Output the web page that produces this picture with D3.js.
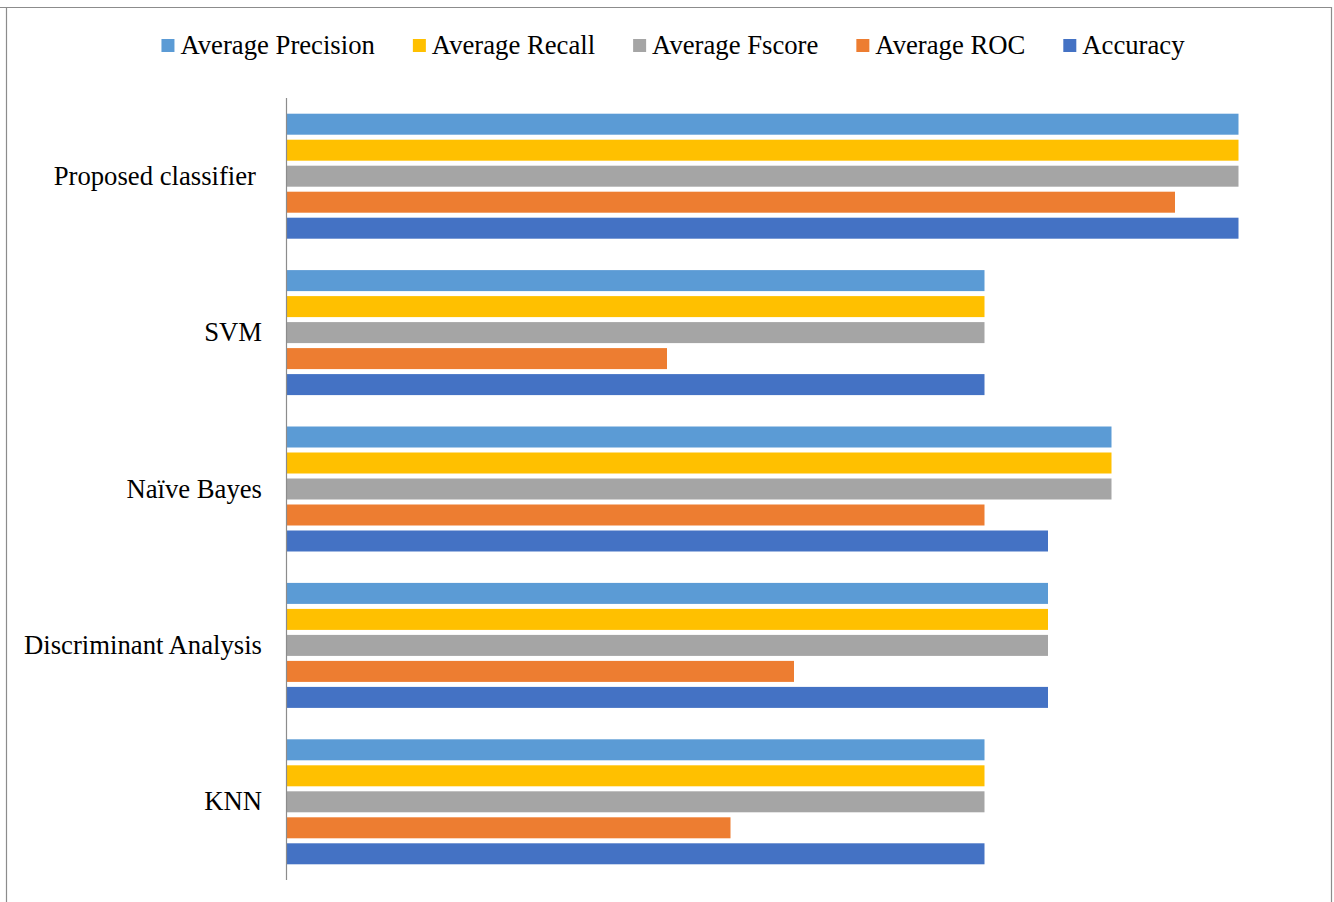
<!DOCTYPE html>
<html>
<head>
<meta charset="utf-8">
<script src="https://cdn.jsdelivr.net/npm/d3@7"></script>
<style>
  html, body { margin: 0; padding: 0; background: #fff; }
  svg { display: block; }
  text { font-family: "Liberation Serif", "Times New Roman", serif; fill: #000; }
</style>
</head>
<body>
<svg id="chart" width="1334" height="902"></svg>
<script>
// Classifier comparison data
const classifiers = ["Proposed classifier", "SVM", "Naïve Bayes", "Discriminant Analysis", "KNN"];
const metrics = ["Average Precision", "Average Recall", "Average Fscore", "Average ROC", "Accuracy"];
const avgPrecision = [0.95, 0.91, 0.93, 0.92, 0.91];
const avgRecall    = [0.95, 0.91, 0.93, 0.92, 0.91];
const avgFscore    = [0.95, 0.91, 0.93, 0.92, 0.91];
const avgROC       = [0.94, 0.86, 0.91, 0.88, 0.87];
const accuracy     = [0.95, 0.91, 0.92, 0.92, 0.91];
const colors = ["#5B9BD5", "#FFC000", "#A5A5A5", "#ED7D31", "#4472C4"];

const seriesValues = [avgPrecision, avgRecall, avgFscore, avgROC, accuracy];
const rows = [];
classifiers.forEach((c, i) => {
  metrics.forEach((m, j) => rows.push({ classifier: c, metric: m, value: seriesValues[j][i] }));
});

const FONT = "Liberation Serif, Times New Roman, serif";
const FONT_SIZE = 26.7;

const svg = d3.select("#chart");

// outer frame
svg.append("path")
  .attr("d", "M0,7.5 H1331.5 V902 M6.5,7.5 V902")
  .attr("fill", "none")
  .attr("stroke", "#8c8c8c")
  .attr("stroke-width", 1.2);

const plot = { left: 286, right: 1302, top: 98, bottom: 880 };

const x = d3.scaleLinear().domain([0.80, 0.96]).range([plot.left, plot.right]);
const y = d3.scaleBand().domain(classifiers).range([plot.top, plot.bottom]).padding(0);
const yInner = d3.scaleBand().domain(metrics).range([0, y.bandwidth()])
  .paddingInner(5 / 26).paddingOuter(0.604);
const color = d3.scaleOrdinal().domain(metrics).range(colors);

// bars
svg.append("g").selectAll("rect")
  .data(rows)
  .join("rect")
  .attr("x", x(0.80))
  .attr("y", d => y(d.classifier) + yInner(d.metric))
  .attr("width", d => x(d.value) - x(0.80))
  .attr("height", yInner.bandwidth())
  .attr("fill", d => color(d.metric));

// category axis
const yAxis = svg.append("g")
  .attr("transform", `translate(${plot.left},0)`)
  .attr("font-family", FONT)
  .call(d3.axisLeft(y).tickSize(0).tickPadding(24));
yAxis.select(".domain").attr("stroke", "#8c8c8c").attr("stroke-width", 1.2)
  .attr("d", `M0.5,${plot.top}V${plot.bottom}`);
yAxis.selectAll(".tick text")
  .attr("font-size", FONT_SIZE)
  .attr("font-family", FONT)
  .attr("fill", "#000")
  .attr("dy", "0.32em")
  .attr("dx", d => d === "Proposed classifier" ? -6 : 0);

// legend
const legend = svg.append("g").attr("transform", "translate(0,45)");
const items = legend.selectAll("g").data(metrics).join("g");
items.append("rect").attr("width", 13).attr("height", 13).attr("y", -6)
  .attr("fill", d => color(d));
items.append("text").attr("x", 19).attr("y", 9)
  .attr("font-size", FONT_SIZE).attr("font-family", FONT).text(d => d);
const widths = [];
items.each(function () { widths.push(19 + this.querySelector("text").getComputedTextLength()); });
const gap = 38;
const total = d3.sum(widths) + gap * (metrics.length - 1);
let cx = 673 - total / 2;
items.attr("transform", (d, i) => {
  const t = `translate(${cx},0)`;
  cx += widths[i] + gap;
  return t;
});
</script>
</body>
</html>
